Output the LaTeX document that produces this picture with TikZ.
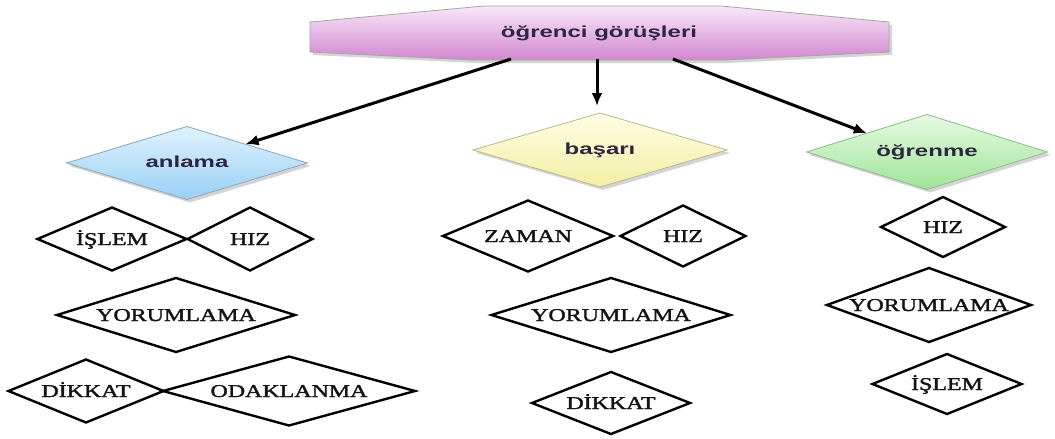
\documentclass[tikz,border=0pt]{standalone}
\usepackage{fontspec}
\setmainfont{Liberation Serif}
\newfontfamily\labserif[FakeBold=1.6]{Liberation Serif}
\newfontfamily\labsans{Liberation Sans}
\usetikzlibrary{shapes.geometric,arrows.meta,calc,shadows}
\pgfdeclarelayer{back}
\pgfsetlayers{back,main}

\definecolor{ink}{HTML}{141414}
\definecolor{sink}{HTML}{2D2640}

% wide serif caption for the outlined diamonds
\newcommand\serlab[1]{\raisebox{-6pt}[0pt][0pt]{\scalebox{1.33}[1]{\fontsize{18}{20}\selectfont\labserif\color{ink}#1}}}
% wide sans caption for the shaded shapes
\newcommand\sanlab[1]{\raisebox{-4.5pt}[0pt][0pt]{\scalebox{1.5}[1]{\fontsize{16}{18}\selectfont\labsans\bfseries\color{sink}#1}}}

\begin{document}
\begin{tikzpicture}[x=1pt,y=-1pt,
  dia/.style 2 args={shape=diamond, inner sep=0pt, outer sep=0pt,
    minimum width=#1pt, minimum height=#2pt,
    /utils/exec={\pgfmathsetmacro\diaasp{#1/#2}}, shape aspect=\diaasp},
  outline/.style={draw=black, line width=2.4pt, fill=white},
  softshadow/.style={drop shadow={shadow xshift=3pt, shadow yshift=-3pt,
    opacity=0.28, fill=black!60}},
  shaded/.style={line width=0.8pt, softshadow},
  conn/.style={line width=3pt, -{Latex[length=13pt,width=11pt]}}
]
\useasboundingbox (0,0) rectangle (1055,439);
\begin{pgfonlayer}{back}
  \fill[white] (0,0) rectangle (1055,439);
\end{pgfonlayer}

% root
\node (top) at (599,33) {\sanlab{öğrenci görüşleri}};
\begin{pgfonlayer}{back}
  \begin{scope}[shift={(top.center)}]
    \path[softshadow, draw=gray!70, line width=0.8pt,
          top color={rgb,255:red,247;green,232;blue,247},
          bottom color={rgb,255:red,210;green,134;blue,208}]
      (-289,-11) -- (-115,-27) -- (122,-27) -- (290,-11) -- (290,19)
      -- (126,27) -- (-127,27) -- (-289,19) -- cycle;
  \end{scope}
\end{pgfonlayer}
\coordinate (s1) at ($(top)+(-88,26)$);
\coordinate (s2) at ($(top)+(-2,26)$);
\coordinate (s3) at ($(top)+(74,26)$);

% second level
\node[dia={241}{73}, shaded, draw={rgb,255:red,140;green,165;blue,185},
      top color={rgb,255:red,224;green,242;blue,254},
      bottom color={rgb,255:red,152;green,208;blue,244}] (anlama) at (187,163) {\sanlab{anlama}};
\node[dia={254}{74}, shaded, draw={rgb,255:red,185;green,185;blue,140},
      top color={rgb,255:red,255;green,253;blue,230},
      bottom color={rgb,255:red,243;green,239;blue,164}] (basari) at (600,150) {\sanlab{başarı}};
\node[dia={241}{75}, shaded, draw={rgb,255:red,140;green,185;blue,140},
      top color={rgb,255:red,230;green,251;blue,227},
      bottom color={rgb,255:red,160;green,228;blue,152}] (ogrenme) at (927,152) {\sanlab{öğrenme}};

% connectors
\draw[conn] (s1) -- (anlama);
\draw[conn, shorten >=7pt] (s2) -- (s2 |- basari.north);
\coordinate (r-end) at ($(ogrenme.west)!0.5!(ogrenme.north)$);
\draw[conn] (s3) -- (r-end);

% left column
\node[dia={149}{63}, outline] (islemL) at (112,239) {\serlab{İŞLEM}};
\node[dia={125}{63}, outline] (hizL) at (250,239) {\serlab{HIZ}};
\node[dia={238}{74}, outline] (yorL) at (176,315) {\serlab{YORUMLAMA}};
\node[dia={155}{63}, outline] (dikL) at (86,391) {\serlab{DİKKAT}};
\node[dia={252}{69}, outline] (odak) at (289,391) {\serlab{ODAKLANMA}};

% middle column
\node[dia={170}{71}, outline] (zaman) at (528,236) {\serlab{ZAMAN}};
\node[dia={125}{61}, outline] (hizM) at (683,236) {\serlab{HIZ}};
\node[dia={239}{74}, outline] (yorM) at (611,315) {\serlab{YORUMLAMA}};
\node[dia={158}{62}, outline] (dikM) at (611,403) {\serlab{DİKKAT}};

% right column
\node[dia={124}{60}, outline] (hizR) at (943,227) {\serlab{HIZ}};
\node[dia={204}{74}, outline] (yorR) at (929,305) {\serlab{YORUMLAMA}};
\node[dia={149}{60}, outline] (islemR) at (947,384) {\serlab{İŞLEM}};
\end{tikzpicture}
\end{document}
